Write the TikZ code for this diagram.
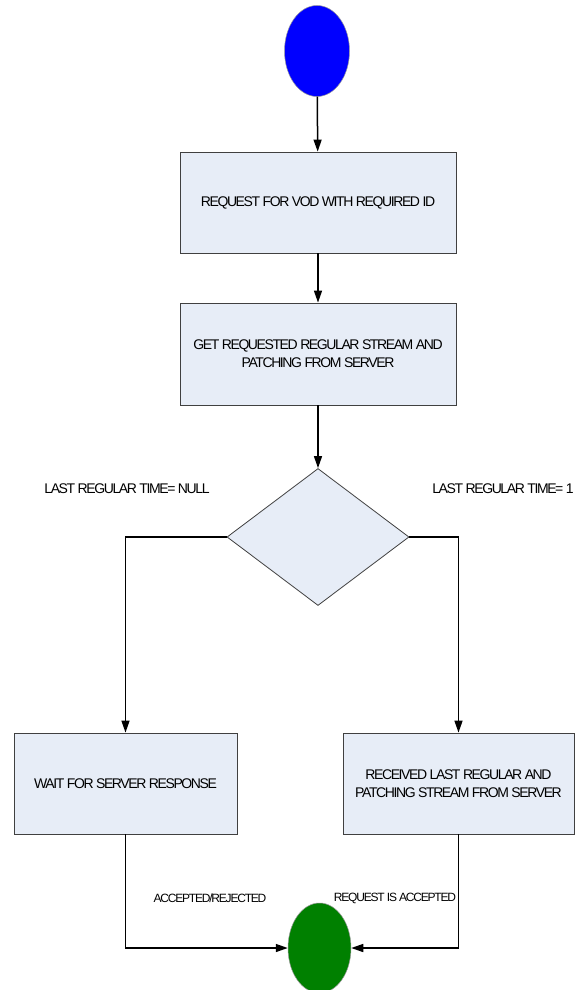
\documentclass[tikz,border=0pt]{standalone}
\usepackage{fontspec}
\setmainfont{Liberation Sans}[LetterSpace=-10]
\usetikzlibrary{shapes.geometric,arrows.meta}
\definecolor{boxfill}{RGB}{231,237,247}
\definecolor{startblue}{RGB}{0,0,255}
\definecolor{endgreen}{RGB}{0,128,0}
\tikzstyle{proc}=[rectangle,draw=black!75,fill=boxfill,line width=0.8pt,inner sep=0pt,align=center,font=\fontsize{14}{18}\selectfont]
\tikzstyle{decision}=[diamond,draw=black!75,fill=boxfill,line width=0.8pt,inner sep=0pt,minimum width=182pt,minimum height=137pt,aspect=1.33]
\tikzstyle{term}=[ellipse,draw=black!40,line width=0.5pt,inner sep=0pt]
\tikzstyle{lbl}=[inner sep=0pt,font=\fontsize{14}{16}\selectfont]
\tikzstyle{small}=[inner sep=0pt,font=\fontsize{12}{14}\selectfont]
\tikzstyle{flow}=[line width=1.5pt,-{Triangle[length=12pt,width=8pt]}]

\begin{document}
\begin{tikzpicture}[x=1pt,y=-1pt]
\useasboundingbox (0,0) rectangle (584,990);
\node[term,fill=startblue,minimum width=65pt,minimum height=91pt] at (317, 51) (start) {};
\node[proc,minimum width=276pt,minimum height=101pt] at (318, 202.5) (req) {REQUEST FOR VOD WITH REQUIRED ID};
\node[proc,minimum width=276pt,minimum height=102pt] at (318, 354) (get) {GET REQUESTED REGULAR STREAM AND\\PATCHING FROM SERVER};
\node[decision] at (318, 537) (check) {};
\node[proc,minimum width=223pt,minimum height=101pt] at (125.5, 783.5) (wait) {WAIT FOR SERVER RESPONSE};
\node[proc,minimum width=231pt,minimum height=101pt] at (458.5, 783.5) (recv) {RECEIVED LAST REGULAR AND\\PATCHING STREAM FROM SERVER};
\node[term,fill=endgreen,minimum width=63pt,minimum height=90pt] at (319.5, 948) (stop) {};
\node[lbl] at (127, 489) (nullcase) {LAST REGULAR TIME= NULL};
\node[lbl] at (503, 489) (onecase) {LAST REGULAR TIME= 1};
\node[small] at (210, 898) (answer) {ACCEPTED/REJECTED};
\node[small] at (395, 898) (accepted) {REQUEST IS ACCEPTED};
\draw[flow] (start) -- (req);
\draw[flow] (req) -- (get);
\draw[flow] (get) -- (check);
\draw[flow] (check.west) -| (wait.north);
\draw[flow] (check.east) -| (recv.north);
\draw[flow] (wait.south) |- (stop.west);
\draw[flow] (recv.south) |- (stop.east);
\end{tikzpicture}
\end{document}
